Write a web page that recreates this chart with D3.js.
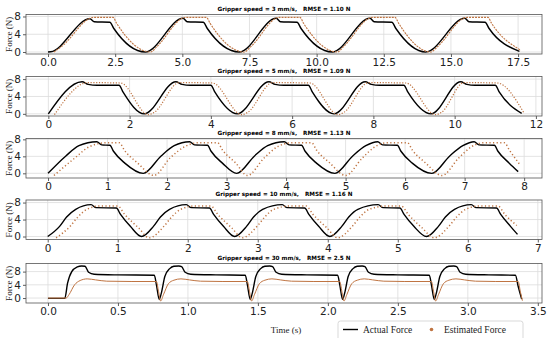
<!DOCTYPE html>
<html>
<head>
<meta charset="utf-8">
<script src="https://cdn.jsdelivr.net/npm/d3@7"></script>
<style>
  body { margin: 0; background: #fff; }
  svg { display: block; }
</style>
</head>
<body>
<div id="chart"></div>
<script>
/* Data: [time (s), force (N)] */
const sp3Actual = [
  [0,0],[0.1,0.05],[1.56,7.5],[1.72,6.8],[2.3,6.7],[2.45,5.3],[3.62,0],
  [5.03,7.6],[5.18,6.8],[5.78,6.7],[5.93,5.3],[7.12,0],
  [8.5,7.6],[8.65,6.8],[9.27,6.7],[9.42,5.3],[10.58,0],
  [11.99,7.6],[12.14,6.8],[12.8,6.7],[12.95,5.3],[14.06,0],
  [15.52,7.6],[15.67,6.8],[16.27,6.7],[16.42,5.3],[17.55,0.15]
];
const sp3Est = [
  [0.22,0],[0.5,1.2],[1.7,7.8],[2.42,7.8],[2.55,6.5],[3.82,0],
  [4.05,1.2],[5.12,7.8],[5.9,7.8],[6.03,6.5],[7.3,0],
  [7.55,1.2],[8.6,7.8],[9.38,7.8],[9.51,6.5],[10.78,0],
  [11.0,1.2],[12.08,7.8],[12.92,7.8],[13.05,6.5],[14.25,0],
  [14.5,1.2],[15.6,7.8],[16.38,7.8],[16.51,6.5],[17.6,0.4]
];

const sp5Actual = [
  [0,0],[0.83,7.4],[0.98,6.8],[1.2,6.6],[1.74,6.6],[1.84,5.0],[2.36,0],
  [3.14,7.4],[3.29,6.8],[3.5,6.6],[4.0,6.6],[4.1,5.0],[4.65,0],
  [5.43,7.4],[5.58,6.8],[5.8,6.6],[6.4,6.6],[6.5,5.0],[7.03,0],
  [7.8,7.4],[7.95,6.8],[8.15,6.6],[8.75,6.6],[8.85,5.0],[9.42,0],
  [10.15,7.4],[10.3,6.8],[10.5,6.6],[11.0,6.6],[11.1,5.0],[11.65,0.1]
];
const sp5Est = [
  [0.15,-0.2],[0.97,7.2],[1.78,7.1],[2.46,-0.2],
  [2.6,0.3],[3.22,7.2],[4.04,7.1],[4.76,-0.2],
  [4.9,0.3],[5.52,7.2],[6.44,7.1],[7.13,-0.2],
  [7.27,0.3],[7.88,7.2],[8.8,7.1],[9.53,-0.2],
  [9.67,0.3],[10.23,7.2],[11.05,7.1],[11.7,0.3]
];

const sp8Actual = [
  [0,0],[0.3,4.1],[0.52,6.5],[0.82,7.45],[0.9,6.7],[1.04,6.6],[1.1,5.2],[1.29,2.4],[1.6,0],
  [1.9,4.1],[2.12,6.5],[2.38,7.45],[2.46,6.7],[2.68,6.6],[2.74,5.2],[2.93,2.4],[3.17,0],
  [3.47,4.1],[3.69,6.5],[3.97,7.45],[4.05,6.7],[4.26,6.6],[4.32,5.2],[4.51,2.4],[4.82,0],
  [5.12,4.1],[5.34,6.5],[5.54,7.45],[5.62,6.7],[5.87,6.6],[5.93,5.2],[6.12,2.4],[6.45,0],
  [6.75,4.1],[6.97,6.5],[7.16,7.45],[7.24,6.7],[7.5,6.6],[7.56,5.2],[7.75,2.4],[7.9,0.4]
];
const sp8Est = [
  [0.1,-0.5],[0.45,3.6],[0.7,6.3],[0.98,7.2],[1.2,7.2],[1.28,5.5],[1.5,2.5],[1.78,-0.5],
  [2.05,3.6],[2.3,6.3],[2.52,7.2],[2.85,7.2],[2.93,5.5],[3.15,2.5],[3.35,-0.5],
  [3.63,3.6],[3.86,6.3],[4.1,7.2],[4.43,7.2],[4.51,5.5],[4.73,2.5],[5.0,-0.5],
  [5.28,3.6],[5.5,6.3],[5.7,7.2],[6.04,7.2],[6.12,5.5],[6.34,2.5],[6.62,-0.5],
  [6.9,3.6],[7.12,6.3],[7.32,7.2],[7.67,7.2],[7.75,5.5],[7.92,2.2]
];

const sp10Actual = [
  [0,0],[0.17,2.4],[0.27,4.6],[0.4,6.4],[0.62,7.5],[0.69,6.8],[0.98,6.7],[1.04,5.2],[1.18,2.4],[1.34,0],
  [1.51,2.4],[1.61,4.6],[1.74,6.4],[1.98,7.5],[2.05,6.8],[2.31,6.7],[2.37,5.2],[2.51,2.4],[2.67,0],
  [2.84,2.4],[2.94,4.6],[3.07,6.4],[3.35,7.5],[3.42,6.8],[3.67,6.7],[3.73,5.2],[3.87,2.4],[4.03,0],
  [4.2,2.4],[4.3,4.6],[4.43,6.4],[4.72,7.5],[4.79,6.8],[5.03,6.7],[5.09,5.2],[5.23,2.4],[5.41,0],
  [5.58,2.4],[5.68,4.6],[5.81,6.4],[6.05,7.5],[6.12,6.8],[6.41,6.7],[6.47,5.2],[6.61,2.4],[6.71,0.5]
];
const sp10Est = [
  [0.12,-0.3],[0.32,2.4],[0.43,4.6],[0.56,6.4],[0.75,7.2],[1.0,7.2],[1.1,5.2],[1.3,2.0],[1.45,-0.3],
  [1.66,2.4],[1.77,4.6],[1.9,6.4],[2.1,7.2],[2.33,7.2],[2.43,5.2],[2.63,2.0],[2.78,-0.3],
  [2.99,2.4],[3.1,4.6],[3.23,6.4],[3.47,7.2],[3.69,7.2],[3.79,5.2],[3.99,2.0],[4.14,-0.3],
  [4.35,2.4],[4.46,4.6],[4.59,6.4],[4.84,7.2],[5.05,7.2],[5.15,5.2],[5.35,2.0],[5.52,-0.3],
  [5.73,2.4],[5.84,4.6],[5.97,6.4],[6.17,7.2],[6.43,7.2],[6.53,5.2],[6.7,2.6]
];

const sp30Actual = [
  [0,-0.1],[0.12,-0.1],[0.14,4.5],[0.17,8.0],[0.21,9.4],[0.24,9.7],[0.265,9.6],[0.29,7.8],[0.33,7.2],[0.5,7.0],[0.76,6.9],[0.775,4.0],[0.795,-0.4],
  [0.81,1.5],[0.835,6.5],[0.87,8.9],[0.9,9.6],[0.935,9.7],[0.955,9.5],[0.98,7.8],[1.02,7.2],[1.2,7.0],[1.41,6.9],[1.425,4.0],[1.445,-0.4],
  [1.46,1.5],[1.485,6.5],[1.52,8.9],[1.55,9.6],[1.585,9.7],[1.605,9.5],[1.63,7.8],[1.67,7.2],[1.85,7.0],[2.07,6.9],[2.085,4.0],[2.105,-0.4],
  [2.12,1.5],[2.145,6.5],[2.18,8.9],[2.21,9.6],[2.245,9.7],[2.265,9.5],[2.29,7.8],[2.33,7.2],[2.5,7.0],[2.725,6.9],[2.74,4.0],[2.76,-0.4],
  [2.775,1.5],[2.8,6.5],[2.835,8.9],[2.865,9.6],[2.9,9.7],[2.92,9.5],[2.945,7.8],[2.985,7.2],[3.15,7.0],[3.34,6.9],[3.36,3.5],[3.385,-0.3]
];
const sp30Est = [
  [0,0],[0.13,0],[0.15,1.0],[0.19,4.0],[0.23,5.3],[0.28,5.8],[0.34,5.5],[0.42,5.1],[0.6,5.0],[0.775,5.0],[0.79,2.0],[0.805,-0.9],
  [0.825,1.0],[0.86,4.3],[0.9,5.4],[0.95,5.8],[1.01,5.5],[1.09,5.1],[1.25,5.0],[1.425,5.0],[1.44,2.0],[1.455,-0.9],
  [1.475,1.0],[1.51,4.3],[1.55,5.4],[1.6,5.8],[1.66,5.5],[1.74,5.1],[1.9,5.0],[2.085,5.0],[2.1,2.0],[2.115,-0.9],
  [2.135,1.0],[2.17,4.3],[2.21,5.4],[2.26,5.8],[2.32,5.5],[2.4,5.1],[2.55,5.0],[2.74,5.0],[2.755,2.0],[2.77,-0.9],
  [2.79,1.0],[2.825,4.3],[2.865,5.4],[2.915,5.8],[2.975,5.5],[3.055,5.1],[3.2,5.0],[3.36,5.0],[3.375,2.0],[3.39,-0.8]
];

/* Tick values and titles */
const yTicks = [0, 4, 8];
const xTicks3 = [0, 2.5, 5, 7.5, 10, 12.5, 15, 17.5];
const xTicks5 = [0, 2, 4, 6, 8, 10, 12];
const xTicks8 = [0, 1, 2, 3, 4, 5, 6, 7, 8];
const xTicks10 = [0, 1, 2, 3, 4, 5, 6, 7];
const xTicks30 = [0, 0.5, 1, 1.5, 2, 2.5, 3, 3.5];
const titles = [
  "Gripper speed = 3 mm/s,   RMSE = 1.10 N",
  "Gripper speed = 5 mm/s,   RMSE = 1.09 N",
  "Gripper speed = 8 mm/s,   RMSE = 1.13 N",
  "Gripper speed = 10 mm/s,   RMSE = 1.16 N",
  "Gripper speed = 30 mm/s,   RMSE = 2.5 N"
];
const legendLabels = ["Actual Force", "Estimated Force"];

/* Layout */
const W = 550, H = 338;
const left = 26, right = 542, panelH = 39.5;
const tops = [14.5, 76.5, 138.5, 200, 263.5];
const estColor = "#bf7442";
const serif = "'Liberation Serif', 'DejaVu Serif', serif";
const sans = "'DejaVu Sans', sans-serif";

const svg = d3.select("#chart").append("svg")
  .attr("width", W).attr("height", H);

function createPanel(i, actual, est, xTicks, fmt, xDomain, yDomain, estStyle) {
  const top = tops[i];
  const x = d3.scaleLinear().domain(xDomain).range([left, right]);
  const y = d3.scaleLinear().domain(yDomain).range([top + panelH, top]);
  const g = svg.append("g");

  /* grid */
  g.selectAll(".gx").data(xTicks).join("line")
    .attr("x1", d => x(d)).attr("x2", d => x(d))
    .attr("y1", top).attr("y2", top + panelH)
    .style("stroke", "#dcdcdc").style("stroke-width", 0.8);
  g.selectAll(".gy").data(yTicks).join("line")
    .attr("x1", left).attr("x2", right)
    .attr("y1", d => y(d)).attr("y2", d => y(d))
    .style("stroke", "#dcdcdc").style("stroke-width", 0.8);

  /* axes */
  const ax = g.append("g")
    .attr("transform", `translate(0,${top + panelH})`)
    .call(d3.axisBottom(x).tickValues(xTicks).tickFormat(fmt).tickSize(3).tickPadding(2));
  const ay = g.append("g")
    .attr("transform", `translate(${left},0)`)
    .call(d3.axisLeft(y).tickValues(yTicks).tickFormat(d3.format("d")).tickSize(3).tickPadding(2));
  [ax, ay].forEach(a => {
    a.select(".domain").remove();
    a.selectAll("line").style("stroke", "#333").style("stroke-width", 0.8);
    a.selectAll("text").style("font-family", sans).style("font-size", "10.5px").style("fill", "#222");
  });

  /* frame */
  g.append("rect")
    .attr("x", left).attr("y", top).attr("width", right - left).attr("height", panelH)
    .style("fill", "none").style("stroke", "#555").style("stroke-width", 0.8);

  /* lines */
  const line = d3.line().x(d => x(d[0])).y(d => y(d[1])).curve(d3.curveMonotoneX);
  g.append("path").datum(actual).attr("d", line)
    .style("fill", "none").style("stroke", "#000").style("stroke-width", 1.4);
  g.append("path").datum(est).attr("d", line)
    .style("fill", "none").style("stroke", estColor)
    .style("stroke-width", estStyle.w).style("stroke-dasharray", estStyle.dash);

  /* title and y label */
  svg.append("text")
    .attr("x", (left + right) / 2).attr("y", top - 4)
    .attr("text-anchor", "middle")
    .style("white-space", "pre")
    .style("font-family", sans).style("font-weight", "bold").style("font-size", "5.7px")
    .text(titles[i]);
  svg.append("text")
    .attr("transform", `translate(12,${top + panelH / 2}) rotate(-90)`)
    .attr("text-anchor", "middle")
    .style("font-family", serif).style("font-size", "9px").style("fill", "#222")
    .text("Force (N)");
}

const f1 = d3.format(".1f");
const fd = d3.format("d");
createPanel(0, sp3Actual, sp3Est, xTicks3, f1, [-0.82, 18.39], [-0.45, 8.45], { w: 1.1, dash: "2 1" });
createPanel(1, sp5Actual, sp5Est, xTicks5, fd, [-0.55, 12.15], [-0.5, 8.6], { w: 1.2, dash: "1.2 1.6" });
createPanel(2, sp8Actual, sp8Est, xTicks8, fd, [-0.37, 8.3], [-1.1, 8.2], { w: 1.5, dash: "1.2 2.4" });
createPanel(3, sp10Actual, sp10Est, xTicks10, fd, [-0.31, 7.06], [-0.7, 8.6], { w: 1.5, dash: "1.2 2.4" });
createPanel(4, sp30Actual, sp30Est, xTicks30, f1, [-0.157, 3.53], [-1.5, 10.45], { w: 1.0, dash: null });

/* x label */
svg.append("text")
  .attr("x", 286).attr("y", 333)
  .attr("text-anchor", "middle")
  .style("font-family", serif).style("font-size", "9px").style("fill", "#222")
  .text("Time (s)");

/* legend */
const lg = svg.append("g");
lg.append("rect")
  .attr("x", 338).attr("y", 321).attr("width", 185).attr("height", 24).attr("rx", 2.5)
  .style("fill", "#fff").style("stroke", "#cfcfcf").style("stroke-width", 0.8);
lg.append("line")
  .attr("x1", 343).attr("x2", 358).attr("y1", 329.5).attr("y2", 329.5)
  .style("stroke", "#000").style("stroke-width", 1.4);
lg.append("text")
  .attr("x", 363).attr("y", 332.5)
  .style("font-family", serif).style("font-size", "9.5px").style("fill", "#222")
  .text(legendLabels[0]);
lg.append("circle")
  .attr("cx", 431.5).attr("cy", 329.5).attr("r", 1.8)
  .style("fill", estColor);
lg.append("text")
  .attr("x", 444).attr("y", 332.5)
  .style("font-family", serif).style("font-size", "9.5px").style("fill", "#222")
  .text(legendLabels[1]);
</script>
</body>
</html>
